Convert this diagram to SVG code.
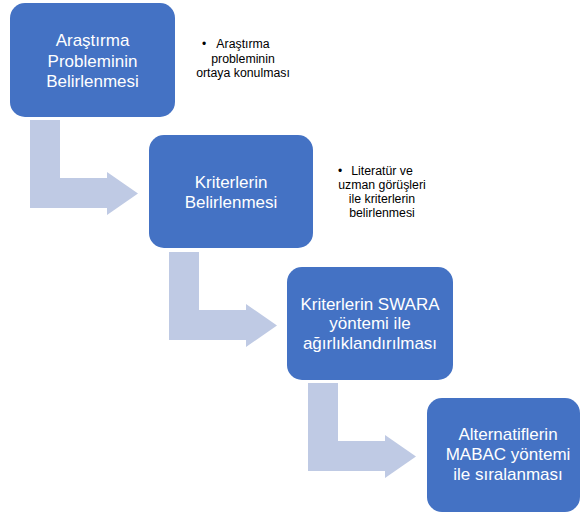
<svg xmlns="http://www.w3.org/2000/svg" width="582" height="516" viewBox="0 0 582 516">
<defs>
<style>
.box{fill:#4472C4;}
.arr{fill:#BFCAE4;}
.bt{font-family:"Liberation Sans",Arial,sans-serif;font-size:17px;fill:#FFFFFF;text-anchor:middle;}
.nt{font-family:"Liberation Sans",Arial,sans-serif;font-size:12.3px;fill:#000000;text-anchor:middle;}
.bl{font-family:"Liberation Sans",Arial,sans-serif;font-size:12px;fill:#000000;}
</style>
<path id="bend" d="M30,120 H60 V178 H107 V172 L138,193.5 L107,215 V208 H30 Z"/>
</defs>
<rect width="582" height="516" fill="#FFFFFF"/>
<g id="connectors">
<use href="#bend" class="arr"/>
<use href="#bend" class="arr" transform="translate(139,132)"/>
<use href="#bend" class="arr" transform="translate(278,263)"/>
</g>
<g id="node1">
<rect class="box" x="10" y="3" width="165" height="114" rx="15"/>
<text class="bt" x="92.5" y="46">Araştırma</text>
<text class="bt" x="92.5" y="67">Probleminin</text>
<text class="bt" x="92.5" y="87">Belirlenmesi</text>
</g>
<g id="note1">
<text class="bl" x="202" y="48">•</text>
<text class="nt" x="243" y="48">Araştırma</text>
<text class="nt" x="243" y="63">probleminin</text>
<text class="nt" x="243" y="77">ortaya konulması</text>
</g>
<g id="node2">
<rect class="box" x="149" y="135" width="164" height="113" rx="15"/>
<text class="bt" x="231" y="188">Kriterlerin</text>
<text class="bt" x="231" y="208">Belirlenmesi</text>
</g>
<g id="note2">
<text class="bl" x="338" y="175">•</text>
<text class="nt" x="382" y="175">Literatür ve</text>
<text class="nt" x="382" y="189">uzman görüşleri</text>
<text class="nt" x="382" y="203">ile kriterlerin</text>
<text class="nt" x="382" y="217">belirlenmesi</text>
</g>
<g id="node3">
<rect class="box" x="287" y="267" width="166" height="113" rx="15"/>
<text class="bt" x="370" y="310">Kriterlerin SWARA</text>
<text class="bt" x="370" y="329">yöntemi ile</text>
<text class="bt" x="370" y="349">ağırlıklandırılması</text>
</g>
<g id="node4">
<rect class="box" x="427" y="398" width="153" height="114" rx="15"/>
<text class="bt" x="508" y="440">Alternatiflerin</text>
<text class="bt" x="508" y="460">MABAC yöntemi</text>
<text class="bt" x="508" y="480">ile sıralanması</text>
</g>
</svg>
